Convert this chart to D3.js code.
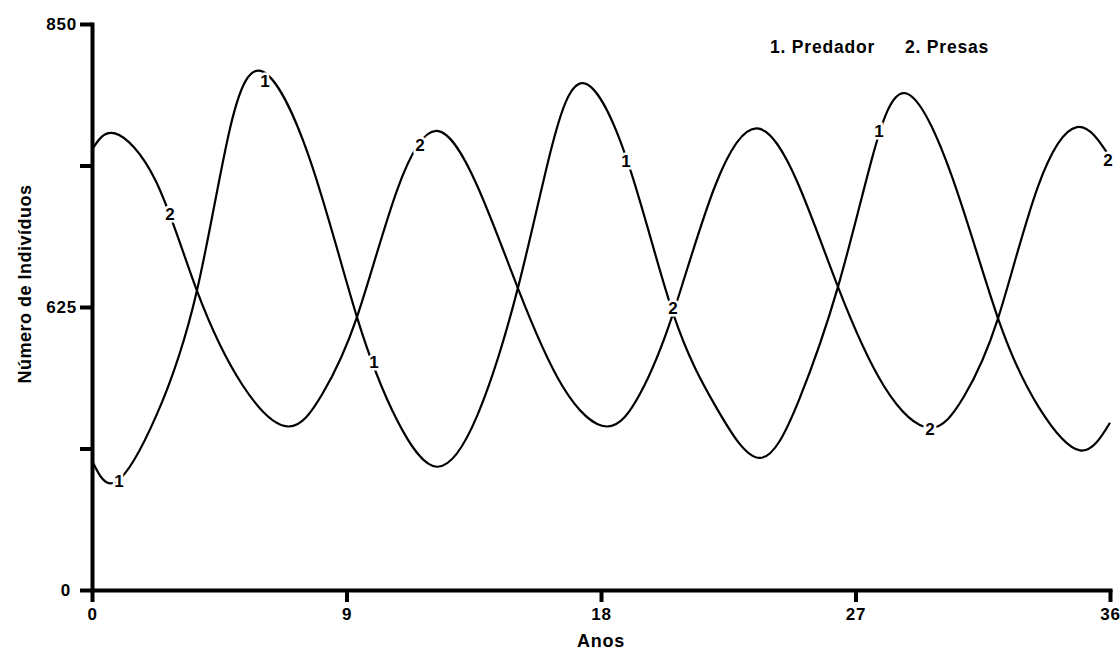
<!DOCTYPE html>
<html>
<head>
<meta charset="utf-8">
<script src="https://cdn.jsdelivr.net/npm/d3@7"></script>
<style>
  body { margin: 0; background: #fff; }
  svg { display: block; }
  text { font-family: "Liberation Sans", Arial, sans-serif; font-weight: bold; fill: #000; }
</style>
</head>
<body>
<div id="chart"></div>
<script>
// values: [ano, número de indivíduos]
const predador = [
  [0.00, 503], [0.85, 486], [2.28, 539], [3.71, 638], [4.88, 767], [6.05, 812],
  [7.71, 742], [9.37, 617], [10.79, 535], [12.20, 498], [13.63, 539], [15.06, 640],
  [16.21, 748], [17.36, 803], [18.95, 740], [20.55, 620], [22.08, 545], [23.62, 505],
  [25.00, 551], [26.38, 641], [27.57, 742], [28.75, 795], [30.39, 730], [32.04, 616],
  [33.49, 545], [34.94, 511], [36.00, 533]
];
const presas = [
  [0.00, 750], [0.81, 763], [2.26, 725], [3.71, 638], [5.32, 563], [6.93, 530],
  [8.15, 556], [9.37, 617], [10.79, 718], [12.20, 765], [13.63, 721], [15.06, 640],
  [16.64, 562], [18.21, 530], [19.38, 556], [20.55, 620], [22.03, 721], [23.52, 767],
  [24.95, 724], [26.38, 641], [28.01, 562], [29.63, 529], [30.84, 554], [32.04, 616],
  [33.44, 720], [34.83, 768], [36.00, 744]
];
// where the curve numbers sit on each line
const predadorLabels = [[0.95, 487], [6.12, 805], [9.97, 581], [18.88, 741], [27.83, 765]];
const presasLabels = [[2.76, 699], [11.60, 754], [20.55, 624], [29.63, 528], [35.93, 742]];

const xTicks = [0, 9, 18, 27, 36];
const yTicks = [400, 512.5, 625, 737.5, 850];
const yTickLabels = ["0", "", "625", "", "850"];
const legendItems = ["1. Predador", "2. Presas"];

const config = {
  width: 1120, height: 667,
  margin: { top: 24, right: 10, bottom: 77, left: 92 }
};
const innerW = config.width - config.margin.left - config.margin.right;
const innerH = config.height - config.margin.top - config.margin.bottom;

const svg = d3.select("#chart").append("svg")
  .attr("width", config.width)
  .attr("height", config.height);

const chart = svg.append("g")
  .attr("transform", `translate(${config.margin.left},${config.margin.top})`);

const x = d3.scaleLinear().domain([0, 36]).range([0, innerW]);
const y = d3.scaleLinear().domain([400, 850]).range([innerH, 0]);

const line = d3.line()
  .x(d => x(d[0]))
  .y(d => y(d[1]))
  .curve(d3.curveNatural);

// curves
[predador, presas].forEach(series => {
  chart.append("path")
    .datum(series)
    .attr("fill", "none")
    .attr("stroke", "#000")
    .attr("stroke-width", 2.2)
    .attr("d", line);
});

// numbers on the curves, with a white gap cut in the line
const labelData = predadorLabels.map(d => ({ p: d, t: "1" }))
  .concat(presasLabels.map(d => ({ p: d, t: "2" })));
chart.selectAll(".curve-label")
  .data(labelData)
  .join("text")
  .attr("class", "curve-label")
  .attr("x", d => x(d.p[0]))
  .attr("y", d => y(d.p[1]))
  .attr("dy", "0.36em")
  .attr("text-anchor", "middle")
  .attr("font-size", 17)
  .attr("stroke", "#fff")
  .attr("stroke-width", 5)
  .attr("paint-order", "stroke")
  .text(d => d.t);

// axes
const xAxis = chart.append("g")
  .attr("transform", `translate(0,${innerH})`)
  .call(d3.axisBottom(x).tickValues(xTicks).tickSize(12).tickSizeOuter(0).tickPadding(6));
const yAxis = chart.append("g")
  .call(d3.axisLeft(y).tickValues(yTicks).tickSize(12).tickSizeOuter(0).tickPadding(3)
    .tickFormat((d, i) => yTickLabels[i]));

[xAxis, yAxis].forEach(ax => {
  ax.select(".domain").attr("stroke", "#000").attr("stroke-width", 4).attr("stroke-linecap", "square");
  ax.selectAll(".tick line").attr("stroke", "#000").attr("stroke-width", 4);
  ax.selectAll(".tick text")
    .attr("font-size", 17)
    .attr("letter-spacing", "0.8px")
    .style("font-family", "'Liberation Sans', Arial, sans-serif")
    .style("font-weight", "bold")
    .attr("fill", "#000");
});
yAxis.selectAll(".tick text").filter(d => d === 400).attr("dx", -6);

// axis titles
svg.append("text")
  .attr("x", config.margin.left + innerW / 2)
  .attr("y", 647)
  .attr("text-anchor", "middle")
  .attr("font-size", 18)
  .attr("letter-spacing", "0.8px")
  .text("Anos");

svg.append("text")
  .attr("transform", "translate(31,284) rotate(-90)")
  .attr("text-anchor", "middle")
  .attr("font-size", 18)
  .attr("letter-spacing", "0.5px")
  .text("Número de Indivíduos");

// legend
svg.selectAll(".legend")
  .data(legendItems)
  .join("text")
  .attr("class", "legend")
  .attr("x", (d, i) => 770 + i * 135)
  .attr("y", 53)
  .attr("font-size", 17.5)
  .attr("letter-spacing", "0.8px")
  .text(d => d);
</script>
</body>
</html>
